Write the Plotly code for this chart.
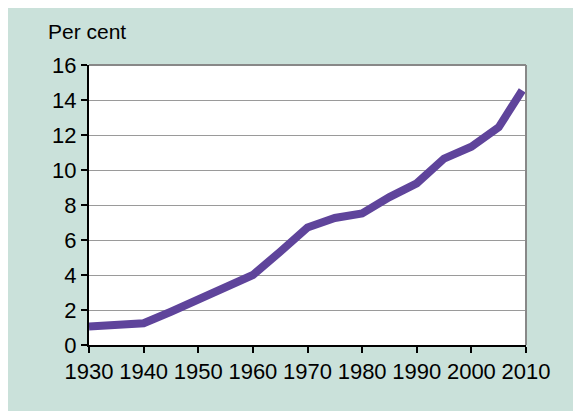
import plotly.graph_objs as go

# data
years = [1930, 1935, 1940, 1945, 1950, 1955, 1960, 1965, 1970, 1975,
         1980, 1985, 1990, 1995, 2000, 2005, 2009.3]
per_cent = [1.05, 1.14, 1.24, 1.9, 2.57, 3.25, 4.0, 5.33, 6.72, 7.26,
            7.52, 8.45, 9.24, 10.65, 11.33, 12.44, 14.55]
x_ticks = [1930, 1940, 1950, 1960, 1970, 1980, 1990, 2000, 2010]
y_ticks = [0, 2, 4, 6, 8, 10, 12, 14, 16]

teal = "#cae1da"
purple = "#5f449b"
font = "Liberation Sans, Arial, sans-serif"

fig = go.Figure(go.Scatter(x=years, y=per_cent, mode="lines",
                           line=dict(color=purple, width=8),
                           hoverinfo="skip"))

# page body margin puts the figure 8px in from the top-left corner
fig.update_layout(
    width=581, height=411,
    margin=dict(l=81, r=63, t=57, b=74),
    paper_bgcolor=teal, plot_bgcolor="white",
    showlegend=False,
    font=dict(family=font, size=22, color="black"),
    shapes=[
        # grey top and right frame
        dict(type="line", xref="paper", yref="paper", x0=0, x1=1, y0=1, y1=1,
             line=dict(color="#888888", width=2)),
        dict(type="line", xref="paper", yref="paper", x0=1, x1=1, y0=0, y1=1,
             line=dict(color="#888888", width=2)),
    ],
    annotations=[
        dict(text="Per cent", xref="paper", yref="paper", x=-0.098, y=1.121,
             xanchor="left", yanchor="middle", showarrow=False,
             font=dict(family=font, size=21, color="black")),
    ],
)

fig.update_xaxes(range=[1930, 2010], tickvals=x_ticks, showgrid=False,
                 zeroline=False, showline=True, linecolor="black", linewidth=2,
                 ticks="outside", ticklen=6, tickcolor="black", tickwidth=1.5)
fig.update_yaxes(range=[0, 16], tickvals=y_ticks, showgrid=True,
                 gridcolor="#9a9a9a", gridwidth=1.2, zeroline=False,
                 showline=True, linecolor="black", linewidth=2,
                 ticks="outside", ticklen=6, tickcolor="black", tickwidth=1.5)

fig.write_html("out.html")
